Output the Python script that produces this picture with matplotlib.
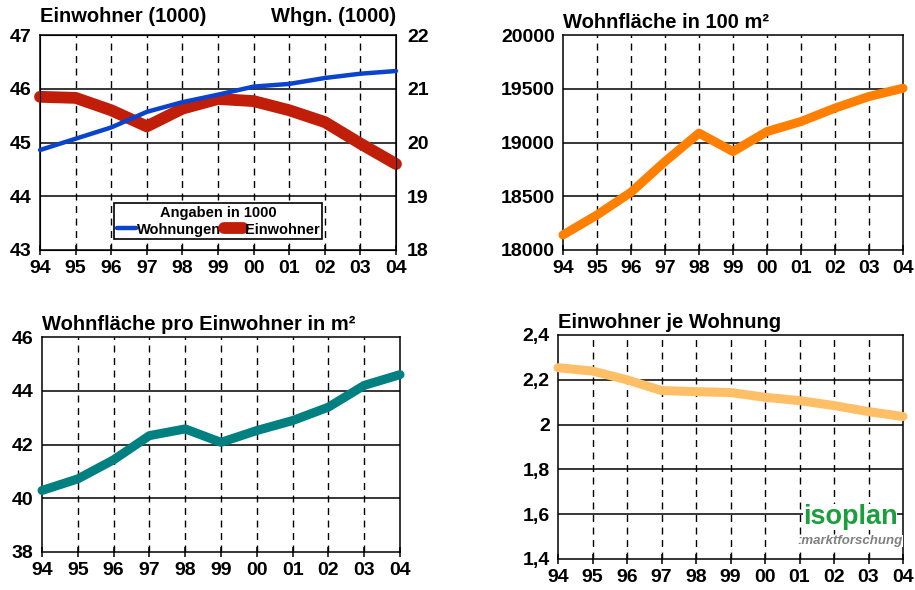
import matplotlib.pyplot as plt

plt.rcParams['font.family'] = ['Liberation Sans', 'DejaVu Sans']
plt.rcParams['font.weight'] = 'bold'

# Daten
jahre = ["94", "95", "96", "97", "98", "99", "00", "01", "02", "03", "04"]
einwohner = [45.85, 45.83, 45.60, 45.30, 45.63, 45.81, 45.77, 45.60, 45.38, 44.98, 44.60]
wohnungen = [19.86, 20.07, 20.28, 20.57, 20.75, 20.89, 21.04, 21.09, 21.20, 21.28, 21.33]
wohnflaeche = [18140, 18326, 18537, 18823, 19087, 18916, 19102, 19195, 19320, 19428, 19505]
flaeche_pro_ew = [40.29, 40.72, 41.43, 42.33, 42.58, 42.08, 42.52, 42.89, 43.39, 44.20, 44.60]
ew_je_whg = [2.254, 2.239, 2.200, 2.152, 2.147, 2.143, 2.122, 2.107, 2.085, 2.058, 2.036]

W, H = 915, 590
fig = plt.figure(figsize=(W / 100, H / 100), dpi=100)

TICK_FS = 14
TITLE_FS = 14.5


def make_axes(left, top, right, bottom):
    return fig.add_axes([left / W, 1 - bottom / H, (right - left) / W, (bottom - top) / H])


def style(ax, ymin, ymax, ystep, ylabels=None):
    x = list(range(len(jahre)))
    ax.set_xlim(0, len(jahre) - 1)
    ax.set_xticks(x)
    ax.set_xticklabels(jahre)
    ticks = []
    v = ymin
    while v <= ymax + 1e-9:
        ticks.append(v)
        v += ystep
    ax.set_ylim(ymin, ymax)
    ax.set_yticks(ticks)
    if ylabels is not None:
        ax.set_yticklabels(ylabels)
    for t in ticks[1:-1]:
        ax.axhline(t, color='black', lw=1.1, zorder=1)
    for xi in x[1:-1]:
        ax.axvline(xi, color='black', lw=1.0, dashes=(5, 4), zorder=1)
    for s in ax.spines.values():
        s.set_linewidth(1.1)
    ax.tick_params(axis='x', direction='inout', length=7, width=1.1, pad=4, labelsize=TICK_FS)
    ax.tick_params(axis='y', length=0, pad=6, labelsize=TICK_FS)
    return x


# Oben links: Einwohner / Wohnungen
ax1 = make_axes(40, 35, 396, 250)
x = style(ax1, 43, 47, 1)
ax2 = ax1.twinx()
ax2.set_ylim(18, 22)
ax2.set_yticks([18, 19, 20, 21, 22])
ax2.tick_params(axis='y', length=0, pad=8, labelsize=TICK_FS)
l_whg, = ax2.plot(x, wohnungen, color='#0a44cc', lw=3.2, solid_capstyle='round', clip_on=False, zorder=3)
l_ew, = ax1.plot(x, einwohner, color='#c01e08', lw=8.5, solid_capstyle='round',
                 solid_joinstyle='round', clip_on=False, zorder=3)
ax1.text(0, 1.04, "Einwohner (1000)", transform=ax1.transAxes, fontsize=TITLE_FS, ha='left', va='bottom')
ax1.text(1, 1.04, "Whgn. (1000)", transform=ax1.transAxes, fontsize=TITLE_FS, ha='right', va='bottom')
leg = ax2.legend([l_whg, l_ew], ["Wohnungen", "Einwohner"], title="Angaben in 1000", ncol=2,
                 loc='lower center', bbox_to_anchor=(0.5, 0.015), fontsize=10.5, title_fontsize=10.5,
                 handlelength=1.3, handletextpad=0.1, columnspacing=0.2, borderpad=0.2,
                 labelspacing=0.2, fancybox=False, framealpha=1, edgecolor='black')
leg.get_frame().set_linewidth(1.2)
leg.get_title().set_fontweight('bold')

# Oben rechts: Wohnfläche
ax3 = make_axes(563, 35, 903, 250)
x = style(ax3, 18000, 20000, 500)
ax3.plot(x, wohnflaeche, color='#ff8000', lw=6.5, solid_capstyle='round', solid_joinstyle='round',
         clip_on=False, zorder=3)
ax3.set_title("Wohnfläche in 100 m²", loc='left', fontsize=TITLE_FS, fontweight='bold', pad=5)

# Unten links: Wohnfläche pro Einwohner
ax4 = make_axes(42, 337, 400, 552)
x = style(ax4, 38, 46, 2)
ax4.plot(x, flaeche_pro_ew, color='#008080', lw=6.5, solid_capstyle='round', solid_joinstyle='round',
         clip_on=False, zorder=3)
ax4.set_title("Wohnfläche pro Einwohner in m²", loc='left', fontsize=TITLE_FS, fontweight='bold', pad=5)

# Unten rechts: Einwohner je Wohnung
ax5 = make_axes(558, 335, 903, 559)
x = style(ax5, 1.4, 2.4, 0.2, ["1,4", "1,6", "1,8", "2", "2,2", "2,4"])
ax5.plot(x, ew_je_whg, color='#ffbf66', lw=6.5, solid_capstyle='round', solid_joinstyle='round',
         clip_on=False, zorder=3)
ax5.set_title("Einwohner je Wohnung", loc='left', fontsize=TITLE_FS, fontweight='bold', pad=5)

# Logo
fig.text(850 / W, 1 - 517 / H, "isoplan", color='#1c9e3c', fontsize=19.5, ha='center', va='center',
         fontweight='bold', bbox=dict(facecolor='white', edgecolor='none', pad=0))
fig.text(850 / W, 1 - 541 / H, ":marktforschung", color='#808080', fontsize=9.5, ha='center', va='center',
         fontweight='bold', style='italic', bbox=dict(facecolor='white', edgecolor='none', pad=0))

fig.savefig("out.png", dpi=100)
